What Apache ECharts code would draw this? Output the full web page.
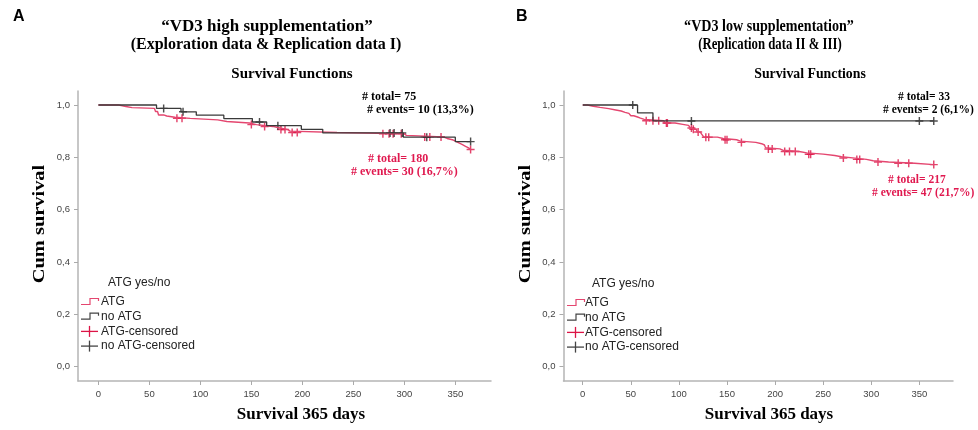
<!DOCTYPE html>
<html><head><meta charset="utf-8">
<script src="https://cdn.jsdelivr.net/npm/echarts@6/dist/echarts.min.js"></script>
<style>html,body{margin:0;padding:0;background:#fff}#c{width:978px;height:430px}</style>
</head><body><div id="c"></div>
<script>
// ---------- DATA ----------
const xTicks = [0, 50, 100, 150, 200, 250, 300, 350];
const yTicks = [0, 0.2, 0.4, 0.6, 0.8, 1.0];
const followUpEnd = 365;

// Panel A (VD3 high supplementation): [day, cumulative survival after event]
const A_atgSteps = [[0,1.0],[20,0.994],[27,0.990],[33,0.987],[55,0.981],[56,0.975],[58,0.969],[59,0.962],[64,0.958],[67,0.953],[75,0.949],[90,0.943],[117,0.937],[126,0.931],[148,0.925],[155,0.918],[171,0.912],[178,0.906],[186,0.900],[188,0.895],[234,0.890],[300,0.884],[302,0.878],[338,0.872],[342,0.866],[348,0.860],[351,0.854],[354,0.848],[357,0.842],[360,0.836],[363,0.830]];
const A_noAtgSteps = [[0,1.0],[57,0.987],[81,0.974],[96,0.961],[123,0.948],[151,0.935],[165,0.921],[199,0.907],[220,0.893],[299,0.877],[350,0.860]];
const A_atgCensoredDays = [77,82,150,163,179,183,190,195,279,285,289,297,320,325,336,365];
const A_noAtgCensoredDays = [64,83,158,176,286,290,298,322,365];

// Panel B (VD3 low supplementation)
const B_atgSteps = [[0,1.0],[5,0.995],[11,0.991],[18,0.986],[27,0.982],[33,0.977],[40,0.972],[44,0.968],[48,0.963],[50,0.959],[53,0.954],[57,0.950],[60,0.945],[64,0.940],[84,0.935],[86,0.931],[96,0.926],[104,0.922],[110,0.917],[112,0.912],[114,0.907],[118,0.902],[119,0.897],[122,0.892],[124,0.887],[125,0.882],[126,0.877],[140,0.872],[146,0.867],[160,0.862],[164,0.857],[180,0.852],[186,0.847],[189,0.842],[190,0.837],[191,0.832],[205,0.827],[208,0.822],[225,0.817],[233,0.812],[250,0.807],[262,0.802],[269,0.797],[283,0.792],[295,0.787],[302,0.782],[318,0.777],[345,0.772]];
const B_noAtgSteps = [[0,1.0],[57,0.970],[73,0.939]];
const B_atgCensoredDays = [66,73,79,87,88,113,115,120,128,131,148,150,165,193,197,210,215,221,235,237,271,285,288,307,328,339,365];
const B_noAtgCensoredDays = [52,113,350,365];

// ---------- COLOURS ----------
const RED_LINE = '#e4466f';
const RED_MARK = '#dc1446';
const BLACK_LINE = '#3a3a3a';
const BLACK_MARK = '#222';
const SERIF = '"Liberation Serif","Times New Roman",serif';
const SANS = '"Liberation Sans",Arial,sans-serif';

function survAt(steps, d) {
  let s = steps[0][1];
  for (const [t, v] of steps) { if (t <= d) s = v; }
  return s;
}
function lineData(steps) { return steps.concat([[followUpEnd, steps[steps.length - 1][1]]]); }
function censorData(steps, days) { return days.map(d => [d, survAt(steps, d)]); }

const PLUS = 'path://M4.1,0H5.9V4.1H10V5.9H5.9V10H4.1V5.9H0V4.1H4.1Z';
const fmt = v => v.toFixed(1).replace('.', ',');

function xAxis(gi) {
  return {
    type: 'value', gridIndex: gi, min: -20, max: 385,
    axisLine: { onZero: false, lineStyle: { color: '#b5b5b5', width: 1.5 } },
    axisTick: { customValues: xTicks, length: 4, lineStyle: { color: '#aaa' } },
    axisLabel: { customValues: xTicks, color: '#444', fontSize: 9.5, fontFamily: SANS, margin: 8 },
    splitLine: { show: false }
  };
}
function yAxis(gi) {
  return {
    type: 'value', gridIndex: gi, min: -0.0554, max: 1.0535,
    axisLine: { show: true, onZero: false, lineStyle: { color: '#b5b5b5', width: 1.5 } },
    axisTick: { show: true, customValues: yTicks, length: 4, lineStyle: { color: '#aaa' } },
    axisLabel: { customValues: yTicks, color: '#444', fontSize: 9.5, fontFamily: SANS, margin: 8, formatter: fmt },
    splitLine: { show: false }
  };
}
function panelSeries(i, atg, noAtg, atgC, noAtgC) {
  return [
    { type: 'line', xAxisIndex: i, yAxisIndex: i, step: 'end', showSymbol: false, data: lineData(atg),
      lineStyle: { color: RED_LINE, width: 1.4 }, animation: false },
    { type: 'line', xAxisIndex: i, yAxisIndex: i, step: 'end', showSymbol: false, data: lineData(noAtg),
      lineStyle: { color: BLACK_LINE, width: 1.3 }, animation: false },
    { type: 'scatter', xAxisIndex: i, yAxisIndex: i, symbol: PLUS, symbolSize: 8, data: censorData(atg, atgC),
      itemStyle: { color: RED_MARK }, animation: false },
    { type: 'scatter', xAxisIndex: i, yAxisIndex: i, symbol: PLUS, symbolSize: 8, data: censorData(noAtg, noAtgC),
      itemStyle: { color: BLACK_MARK }, animation: false }
  ];
}

function txt(x, y, text, opt, extra) {
  return Object.assign({ type: 'text', x: x, y: y, style: Object.assign({ text: text, fill: '#000', textVerticalAlign: 'middle' }, opt) }, extra || {});
}
function legendBlock(x0, y0, tx) {
  const g = [];
  g.push(txt(tx + 7, y0, 'ATG yes/no', { font: '12px ' + SANS, fill: '#222' }));
  const ys = [y0 + 19, y0 + 33.7, y0 + 48.4, y0 + 63.1];
  const labels = ['ATG', 'no ATG', 'ATG-censored', 'no ATG-censored'];
  const cols = [RED_LINE, '#444', RED_MARK, '#444'];
  for (let k = 0; k < 4; k++) {
    const y = ys[k];
    if (k < 2) {
      g.push({ type: 'polyline', shape: { points: [[x0, y + 2.5], [x0 + 9, y + 2.5], [x0 + 9, y - 3.5], [x0 + 17.5, y - 3.5], [x0 + 17.5, y - 1]] },
        style: { stroke: cols[k], lineWidth: 1.2, fill: null } });
    } else {
      g.push({ type: 'line', shape: { x1: x0, y1: y, x2: x0 + 17, y2: y }, style: { stroke: cols[k], lineWidth: 1.3 } });
      g.push({ type: 'line', shape: { x1: x0 + 8.5, y1: y - 5.5, x2: x0 + 8.5, y2: y + 5.5 }, style: { stroke: cols[k], lineWidth: 1.3 } });
    }
    g.push(txt(tx, y, labels[k], { font: '12px ' + SANS, fill: '#222' }));
  }
  return g;
}

const graphics = [
  txt(13, 17, 'A', { font: 'bold 16px ' + SANS }),
  txt(516, 17, 'B', { font: 'bold 16px ' + SANS }),
  txt(267, 27, '“VD3 high supplementation”', { font: 'bold 17px ' + SERIF, textAlign: 'center' }),
  txt(266, 45, '(Exploration data & Replication data I)', { font: 'bold 16px ' + SERIF, textAlign: 'center' }),
  txt(292, 74, 'Survival Functions', { font: 'bold 15px ' + SERIF, textAlign: 'center' }),
  txt(769, 27, '“VD3 low supplementation”', { font: 'bold 16px ' + SERIF, textAlign: 'center' }, { scaleX: 0.88 }),
  txt(770, 45, '(Replication data II & III)', { font: 'bold 16px ' + SERIF, textAlign: 'center' }, { scaleX: 0.8 }),
  txt(810, 74, 'Survival Functions', { font: 'bold 15px ' + SERIF, textAlign: 'center' }, { scaleX: 0.92 }),
  txt(362, 97, '# total= 75', { font: 'bold 12px ' + SERIF }),
  txt(367, 110, '# events= 10 (13,3%)', { font: 'bold 12px ' + SERIF }),
  txt(368, 159, '# total= 180', { font: 'bold 12px ' + SERIF, fill: '#e0194f' }),
  txt(351, 172, '# events= 30 (16,7%)', { font: 'bold 12px ' + SERIF, fill: '#e0194f' }),
  txt(898, 97, '# total= 33', { font: 'bold 11.5px ' + SERIF }),
  txt(883, 110, '# events= 2 (6,1%)', { font: 'bold 11.5px ' + SERIF }),
  txt(888, 180, '# total= 217', { font: 'bold 11.5px ' + SERIF, fill: '#e0194f' }),
  txt(872, 193, '# events= 47 (21,7%)', { font: 'bold 11.5px ' + SERIF, fill: '#e0194f' }),
  txt(40, 224, 'Cum survival', { font: 'bold 17px ' + SERIF, textAlign: 'center' }, { rotation: Math.PI / 2, scaleX: 1.2 }),
  txt(526, 224, 'Cum survival', { font: 'bold 17px ' + SERIF, textAlign: 'center' }, { rotation: Math.PI / 2, scaleX: 1.2 }),
  txt(301, 415, 'Survival 365 days', { font: 'bold 17px ' + SERIF, textAlign: 'center' }),
  txt(769, 415, 'Survival 365 days', { font: 'bold 17px ' + SERIF, textAlign: 'center' })
].concat(legendBlock(81, 283, 101), legendBlock(567, 284, 585));

const chart = echarts.init(document.getElementById('c'), null, { renderer: 'canvas' });
chart.setOption({
  animation: false,
  backgroundColor: '#fff',
  grid: [
    { left: 78, top: 91, width: 413, height: 290, containLabel: false },
    { left: 563.5, top: 91, width: 389.5, height: 290, containLabel: false }
  ],
  xAxis: [xAxis(0), xAxis(1)],
  yAxis: [yAxis(0), yAxis(1)],
  series: panelSeries(0, A_atgSteps, A_noAtgSteps, A_atgCensoredDays, A_noAtgCensoredDays)
    .concat(panelSeries(1, B_atgSteps, B_noAtgSteps, B_atgCensoredDays, B_noAtgCensoredDays)),
  graphic: graphics
});
</script>
</body></html>
